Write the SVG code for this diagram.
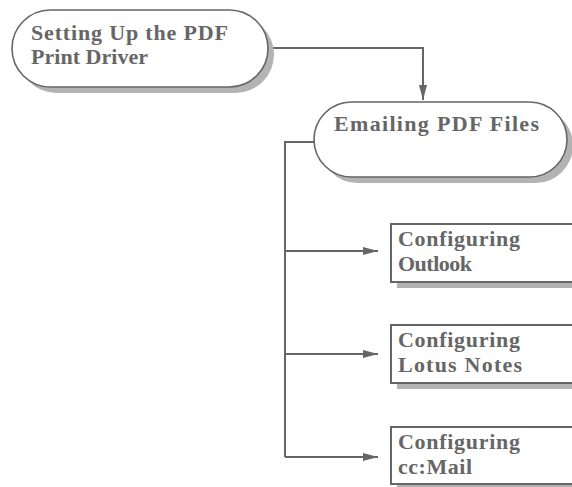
<svg xmlns="http://www.w3.org/2000/svg" width="572" height="487" viewBox="0 0 572 487">
<style>
.bg{fill:#ffffff}
.shadow{fill:#b3b3b3;stroke:none}
.shape{fill:#ffffff;stroke:#666666;stroke-width:1.6}
.box{fill:#ffffff;stroke:#666666;stroke-width:2}
.lbl{font-family:"Liberation Serif","Times New Roman",serif;font-weight:bold;font-size:22px;fill:#666666}
.conn{fill:none;stroke:#666666;stroke-width:2}
</style>
<defs>
<marker id="arr" markerUnits="userSpaceOnUse" viewBox="0 0 15 8" markerWidth="15" markerHeight="8" refX="15" refY="4" orient="auto">
<path d="M0,0 L15,4 L0,8 Z" fill="#666666"/>
</marker>
</defs>
<rect class="bg" x="0" y="0" width="572" height="487"/>
<g id="connectors">
<path class="conn" d="M268,48 H423 V100" marker-end="url(#arr)"/>
<path class="conn" d="M314,142 H285 V457"/>
<path class="conn" d="M285,251 H378" marker-end="url(#arr)"/>
<path class="conn" d="M285,354 H378" marker-end="url(#arr)"/>
<path class="conn" d="M285,457 H378" marker-end="url(#arr)"/>
</g>
<g id="node-setup">
<rect class="shadow" x="18" y="16" width="256" height="77" rx="38.5" ry="38.5"/>
<rect class="shape" x="12" y="10" width="256" height="77" rx="38.5" ry="38.5"/>
<text class="lbl" x="31" y="40" textLength="197" lengthAdjust="spacing">Setting Up the PDF</text>
<text class="lbl" x="31" y="64" textLength="117" lengthAdjust="spacing">Print Driver</text>
</g>
<g id="node-emailing">
<rect class="shadow" x="320" y="108" width="253" height="75" rx="37.5" ry="37.5"/>
<rect class="shape" x="314" y="102" width="253" height="75" rx="37.5" ry="37.5"/>
<text class="lbl" x="334" y="131" textLength="205" lengthAdjust="spacing">Emailing PDF Files</text>
</g>
<g id="node-outlook">
<rect class="shadow" x="397" y="282" width="190" height="6"/>
<rect class="box" x="391" y="224" width="190" height="58"/>
<text class="lbl" x="398" y="246" textLength="122" lengthAdjust="spacing">Configuring</text>
<text class="lbl" x="398" y="271" textLength="74" lengthAdjust="spacing">Outlook</text>
</g>
<g id="node-lotus">
<rect class="shadow" x="397" y="383" width="190" height="6"/>
<rect class="box" x="391" y="325" width="190" height="58"/>
<text class="lbl" x="398" y="347" textLength="122" lengthAdjust="spacing">Configuring</text>
<text class="lbl" x="398" y="372" textLength="124" lengthAdjust="spacing">Lotus Notes</text>
</g>
<g id="node-ccmail">
<rect class="shadow" x="397" y="484" width="190" height="6"/>
<rect class="box" x="391" y="427" width="190" height="57"/>
<text class="lbl" x="398" y="449" textLength="122" lengthAdjust="spacing">Configuring</text>
<text class="lbl" x="398" y="474" textLength="74" lengthAdjust="spacing">cc:Mail</text>
</g>
</svg>
